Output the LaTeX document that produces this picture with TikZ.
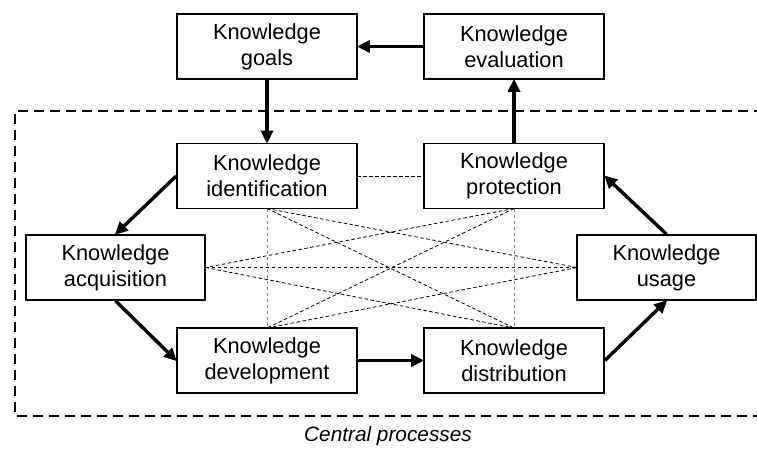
\documentclass[tikz,border=0pt]{standalone}
\usepackage{fontspec}
\setmainfont{Liberation Sans}
\usetikzlibrary{arrows.meta}
\begin{document}
\begin{tikzpicture}[x=1pt,y=-1pt,
  proc/.style={draw=black, line width=1.6pt, fill=white, minimum width=180pt,
    minimum height=65pt, inner sep=0pt, align=center,
    font=\fontsize{21.8}{26}\selectfont},
  flow/.style={line width=3.4pt, -{Triangle[length=13pt,width=12pt]}, shorten >=-1pt},
  link/.style={line width=0.8pt, dash pattern=on 3.5pt off 2.5pt},
  vlink/.style={link, gray},
  frame/.style={line width=2.8pt, dash pattern=on 10pt off 6pt}]
\clip (0,0) rectangle (757,448);
\fill[white] (0,0) rectangle (757,448);

% central processes frame (open to the right)
\draw[frame] (780,111) -- (15,111) -- (15,416) -- (780,416);
\node[font=\fontsize{20.8}{24}\selectfont\itshape] (cap) at (388,436) {Central processes};

% cross links among the central processes
\coordinate (idS) at (267,208.5);
\coordinate (prS) at (514,208.5);
\coordinate (acE) at (205.5,267.5);
\coordinate (usW) at (577,267.5);
\coordinate (dvN) at (267,328);
\coordinate (dsN) at (514,328);
\draw[vlink] (idS) -- (dvN);
\draw[vlink] (prS) -- (dsN);
\draw[link] (idS) -- (usW);
\draw[link] (idS) -- (dsN);
\draw[link] (prS) -- (acE);
\draw[link] (prS) -- (dvN);
\draw[link] (acE) -- (usW);
\draw[link] (acE) -- (dsN);
\draw[link] (dvN) -- (usW);
\draw[link] (267,176) -- (514,176);

% process boxes
\node[proc] (goals) at (267,46.5) {Knowledge\\goals};
\node[proc] (eval) at (514,46.5) {Knowledge\\evaluation};
\node[proc] (ident) at (267,176) {Knowledge\\identification};
\node[proc] (prot) at (514,176) {Knowledge\\protection};
\node[proc, minimum width=179pt] (acq) at (115.5,267.5) {Knowledge\\acquisition};
\node[proc, minimum width=179pt] (usage) at (666.5,267.5) {Knowledge\\usage};
\node[proc] (dev) at (267,360.5) {Knowledge\\development};
\node[proc] (dist) at (514,360.5) {Knowledge\\distribution};

% knowledge management cycle
\draw[flow] (eval.west) -- (goals.east);
\draw[flow] (goals.south) -- (ident.north);
\draw[flow] (ident.west) -- (acq.north);
\draw[flow] (acq.south) -- (dev.west);
\draw[flow] (dev.east) -- (dist.west);
\draw[flow] (dist.east) -- (usage.south);
\draw[flow] (usage.north) -- (prot.east);
\draw[flow] (prot.north) -- (eval.south);
\end{tikzpicture}
\end{document}
